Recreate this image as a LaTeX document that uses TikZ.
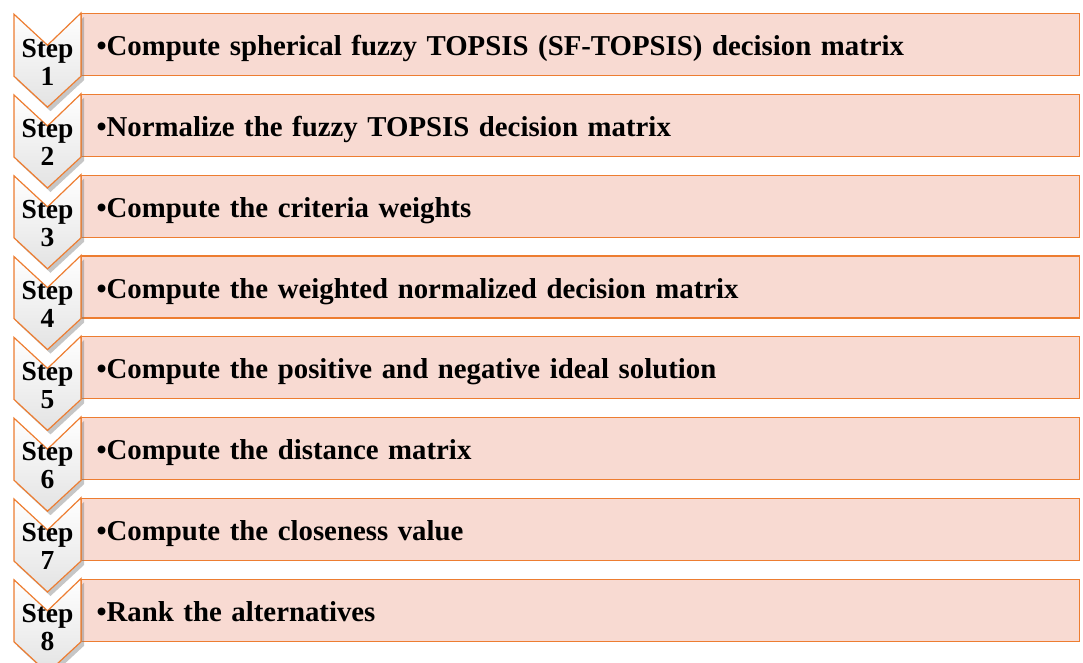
\documentclass[tikz,border=0pt]{standalone}
\usepackage{fontspec}
\setmainfont{Liberation Serif}
\usetikzlibrary{positioning,shadows}
\definecolor{rust}{HTML}{ED7D31}
\definecolor{blush}{HTML}{F8DAD2}

\begin{document}
\begin{tikzpicture}[
  x=1pt,y=1pt,
  stepbox/.style={draw=rust,line width=1.2pt,fill=blush,text width=968pt,align=left,inner xsep=15pt,minimum height=62pt,text height=22pt,text depth=0pt,font=\bfseries\fontsize{28.8}{32}\selectfont},
  chevron/.style={draw=rust,line width=1.2pt,top color=white,bottom color=gray!22,drop shadow={opacity=0.45,fill=gray,shadow xshift=3pt,shadow yshift=-4pt}},
  steplabel/.style={align=center,inner sep=0pt,font=\bfseries\fontsize{27.5}{28}\selectfont},
  node distance=17.6pt
]
\useasboundingbox (0,0) rectangle (1083,-662);
\node[stepbox,anchor=north west] (t1) at (81,-13) {•Compute spherical fuzzy TOPSIS (SF-TOPSIS) decision matrix};
\node[stepbox,below=of t1] (t2) {•Normalize the fuzzy TOPSIS decision matrix};
\node[stepbox,below=of t2] (t3) {•Compute the criteria weights};
\node[stepbox,below=of t3] (t4) {•Compute the weighted normalized decision matrix};
\node[stepbox,below=of t4] (t5) {•Compute the positive and negative ideal solution};
\node[stepbox,below=of t5] (t6) {•Compute the distance matrix};
\node[stepbox,below=of t6] (t7) {•Compute the closeness value};
\node[stepbox,below=of t7] (t8) {•Rank the alternatives};
% chevrons, last one first so each tip lies over the next step
\foreach \i in {8,7,...,1}{
  \path[chevron] (t\i.north west) -- (t\i.south west) -- ++(-33.5,-31) -- ++(-33.5,31) -- ++(0,62) -- ++(33.5,-31) -- cycle;
  \node[steplabel] (s\i) at ([xshift=-33.5pt,yshift=-49pt]t\i.north west) {Step\\\i};
}
\end{tikzpicture}
\end{document}
